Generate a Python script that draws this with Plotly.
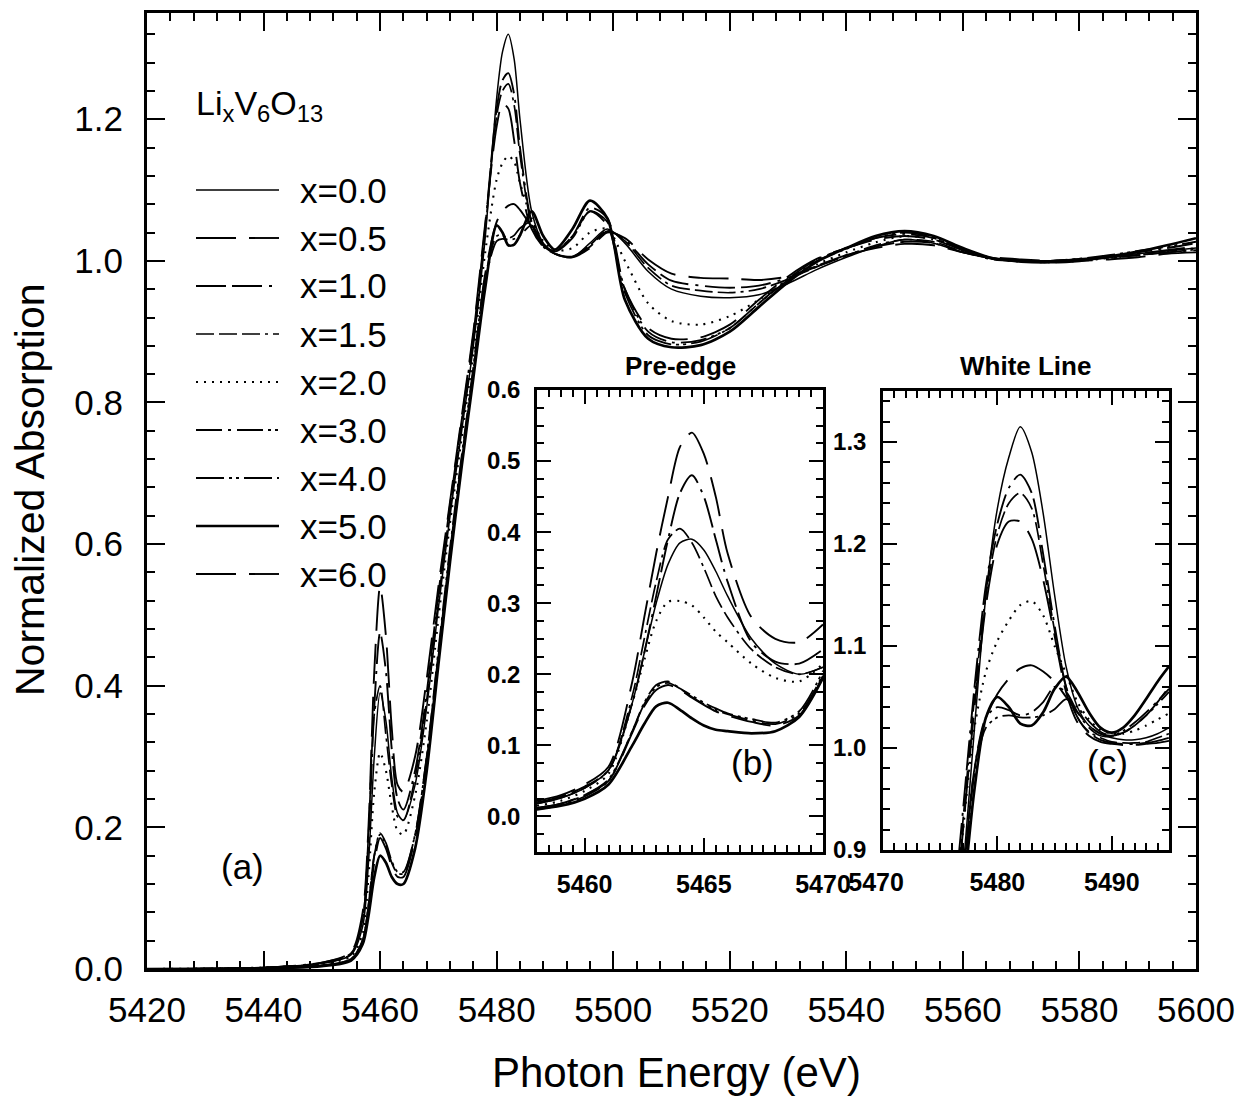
import plotly.graph_objects as go

# ---------------- DATA ----------------
LABELS = ["x=0.0", "x=0.5", "x=1.0", "x=1.5", "x=2.0", "x=3.0", "x=4.0", "x=5.0", "x=6.0"]

E_MAIN = [5420, 5440, 5450, 5455, 5457, 5458, 5459, 5460, 5461, 5462, 5463, 5464,
          5466, 5468, 5470, 5472, 5474, 5476, 5478, 5480, 5481, 5482, 5483, 5484,
          5486, 5488, 5490, 5493, 5496, 5499, 5502, 5506, 5510,
          5515, 5520, 5525, 5530, 5535, 5540, 5545, 5550, 5555, 5560, 5565, 5570,
          5575, 5580, 5585, 5590, 5595, 5600]

MAIN_X00 = [0.000, 0.002, 0.008, 0.020,
            0.060, 0.150, 0.300, 0.390, 0.350, 0.270, 0.220, 0.210,
            0.260, 0.370, 0.510, 0.640, 0.760, 0.880, 1.030, 1.230,
            1.295, 1.320, 1.285, 1.200,
            1.070, 1.025, 1.010,
            1.005, 1.025, 1.045, 1.025, 0.985, 0.960,
            0.950, 0.948, 0.952, 0.968, 0.988, 1.005, 1.020, 1.030, 1.025, 1.012, 1.003, 1.000,
            1.000, 1.003, 1.006, 1.010, 1.014, 1.018]
MAIN_X05 = [0.000, 0.002, 0.009, 0.024,
            0.080, 0.200, 0.420, 0.540, 0.470, 0.340, 0.260, 0.250,
            0.300, 0.410, 0.540, 0.660, 0.780, 0.900, 1.050, 1.190,
            1.222, 1.215, 1.170, 1.110,
            1.045, 1.020, 1.010,
            1.005, 1.018, 1.040, 1.032, 1.002, 0.982,
            0.976, 0.975, 0.973, 0.978, 0.992, 1.008, 1.018, 1.024, 1.022, 1.012, 1.005, 1.002,
            1.000, 1.000, 1.002, 1.005, 1.010, 1.012]
MAIN_X10 = [0.000, 0.002, 0.009, 0.022,
            0.070, 0.180, 0.370, 0.475, 0.420, 0.310, 0.240, 0.225,
            0.280, 0.390, 0.530, 0.655, 0.775, 0.895, 1.045, 1.215,
            1.255, 1.265, 1.235, 1.160,
            1.055, 1.022, 1.010,
            1.006, 1.020, 1.042, 1.030, 0.995, 0.972,
            0.965, 0.962, 0.965, 0.976, 0.993, 1.008, 1.020, 1.027, 1.025, 1.012, 1.004, 1.000,
            1.000, 1.002, 1.005, 1.008, 1.012, 1.015]
MAIN_X15 = [0.000, 0.002, 0.008, 0.021,
            0.070, 0.190, 0.360, 0.400, 0.330, 0.260, 0.215, 0.210,
            0.270, 0.380, 0.520, 0.650, 0.770, 0.890, 1.040, 1.205,
            1.240, 1.250, 1.220, 1.150,
            1.052, 1.020, 1.010,
            1.006, 1.022, 1.043, 1.028, 0.990, 0.965,
            0.958, 0.955, 0.960, 0.974, 0.992, 1.007, 1.022, 1.030, 1.027, 1.013, 1.004, 1.000,
            0.999, 1.001, 1.004, 1.008, 1.012, 1.016]
MAIN_X20 = [0.000, 0.002, 0.007, 0.018,
            0.050, 0.130, 0.250, 0.305, 0.280, 0.230, 0.195, 0.190,
            0.245, 0.350, 0.495, 0.630, 0.750, 0.870, 1.010, 1.115,
            1.138, 1.148, 1.140, 1.110,
            1.060, 1.028, 1.015,
            1.018, 1.040, 1.045, 1.000, 0.940, 0.915,
            0.910, 0.922, 0.945, 0.972, 0.995, 1.012, 1.026, 1.035, 1.030, 1.015, 1.003, 0.999,
            0.998, 1.000, 1.004, 1.008, 1.013, 1.018]
MAIN_X30 = [0.000, 0.001, 0.005, 0.014,
            0.040, 0.090, 0.160, 0.190, 0.175, 0.150, 0.135, 0.135,
            0.190, 0.300, 0.450, 0.595, 0.725, 0.850, 0.975, 1.035,
            1.036, 1.032, 1.036, 1.046,
            1.055, 1.022, 1.014,
            1.035, 1.075, 1.060, 0.960, 0.900, 0.885,
            0.888, 0.905, 0.940, 0.975, 1.002, 1.018, 1.032, 1.038, 1.032, 1.015, 1.002, 1.000,
            1.000, 1.002, 1.006, 1.012, 1.018, 1.025]
MAIN_X40 = [0.000, 0.001, 0.005, 0.014,
            0.040, 0.090, 0.160, 0.192, 0.178, 0.152, 0.137, 0.137,
            0.190, 0.300, 0.445, 0.590, 0.720, 0.845, 0.970, 1.028,
            1.031, 1.030, 1.031, 1.036,
            1.050, 1.024, 1.013,
            1.032, 1.070, 1.055, 0.955, 0.895, 0.882,
            0.886, 0.905, 0.940, 0.973, 1.000, 1.017, 1.032, 1.040, 1.033, 1.016, 1.003, 1.000,
            1.000, 1.003, 1.008, 1.014, 1.020, 1.027]
MAIN_X50 = [0.000, 0.001, 0.004, 0.012,
            0.035, 0.075, 0.130, 0.160, 0.150, 0.130, 0.120, 0.120,
            0.170, 0.280, 0.430, 0.575, 0.710, 0.835, 0.960, 1.050,
            1.040, 1.022, 1.023, 1.036,
            1.070, 1.035, 1.016,
            1.045, 1.085, 1.060, 0.945, 0.890, 0.878,
            0.881, 0.900, 0.935, 0.970, 0.999, 1.018, 1.035, 1.042, 1.035, 1.018, 1.004, 0.999,
            0.998, 1.000, 1.006, 1.013, 1.022, 1.032]
MAIN_X60 = [0.000, 0.001, 0.005, 0.013,
            0.040, 0.085, 0.150, 0.185, 0.170, 0.145, 0.130, 0.130,
            0.185, 0.295, 0.440, 0.585, 0.715, 0.845, 0.980, 1.055,
            1.070, 1.078, 1.080, 1.072,
            1.048, 1.024, 1.013,
            1.035, 1.070, 1.050, 0.960, 0.905, 0.890,
            0.892, 0.910, 0.945, 0.978, 1.003, 1.018, 1.030, 1.035, 1.030, 1.015, 1.003, 1.000,
            1.000, 1.002, 1.005, 1.010, 1.015, 1.020]

# inset (b): pre-edge
E_PRE = [5458, 5459, 5460, 5461, 5462, 5462.5, 5463, 5463.5, 5464, 5464.5, 5465, 5465.5,
         5466, 5467, 5468, 5469, 5470]
PRE_X00 = [0.018, 0.026, 0.040, 0.065, 0.160, 0.230, 0.300, 0.355, 0.385, 0.390, 0.375, 0.345,
           0.310, 0.250, 0.215, 0.200, 0.210]
PRE_X05 = [0.022, 0.030, 0.045, 0.070, 0.190, 0.280, 0.370, 0.450, 0.520, 0.540, 0.510, 0.450,
           0.370, 0.280, 0.250, 0.245, 0.270]
PRE_X10 = [0.020, 0.028, 0.042, 0.065, 0.160, 0.230, 0.310, 0.390, 0.455, 0.480, 0.450, 0.390,
           0.330, 0.245, 0.218, 0.215, 0.235]
PRE_X15 = [0.018, 0.026, 0.040, 0.065, 0.170, 0.250, 0.330, 0.390, 0.405, 0.385, 0.350, 0.310,
           0.280, 0.235, 0.210, 0.200, 0.210]
PRE_X20 = [0.015, 0.022, 0.036, 0.060, 0.160, 0.220, 0.275, 0.302, 0.303, 0.297, 0.280, 0.260,
           0.245, 0.215, 0.195, 0.190, 0.215]
PRE_X30 = [0.010, 0.016, 0.028, 0.050, 0.120, 0.160, 0.185, 0.190, 0.180, 0.168, 0.158, 0.150,
           0.144, 0.135, 0.130, 0.145, 0.200]
PRE_X40 = [0.012, 0.018, 0.030, 0.052, 0.120, 0.158, 0.182, 0.188, 0.180, 0.170, 0.160, 0.152,
           0.145, 0.137, 0.132, 0.148, 0.205]
PRE_X50 = [0.010, 0.015, 0.025, 0.045, 0.100, 0.130, 0.155, 0.160, 0.150, 0.138, 0.128, 0.122,
           0.120, 0.117, 0.120, 0.140, 0.195]
PRE_X60 = [0.012, 0.018, 0.030, 0.050, 0.118, 0.155, 0.178, 0.185, 0.178, 0.167, 0.157, 0.148,
           0.142, 0.133, 0.128, 0.142, 0.198]

# inset (c): white line
E_WL = [5475, 5476, 5477, 5478, 5479, 5480, 5481, 5482, 5483, 5484, 5485, 5486, 5487, 5488,
        5489, 5490, 5491, 5492, 5493, 5494, 5495]
WL_X00 = [0.650, 0.760, 0.880, 1.020, 1.150, 1.235, 1.285, 1.315, 1.290, 1.230, 1.150, 1.080,
          1.040, 1.022, 1.014, 1.010, 1.008, 1.008, 1.010, 1.014, 1.020]
WL_X05 = [0.680, 0.800, 0.920, 1.040, 1.140, 1.200, 1.222, 1.222, 1.205, 1.165, 1.110, 1.055,
          1.025, 1.012, 1.006, 1.004, 1.003, 1.003, 1.004, 1.005, 1.007]
WL_X10 = [0.700, 0.820, 0.940, 1.060, 1.160, 1.220, 1.255, 1.268, 1.250, 1.190, 1.120, 1.060,
          1.030, 1.015, 1.008, 1.005, 1.004, 1.004, 1.005, 1.007, 1.010]
WL_X15 = [0.690, 0.810, 0.930, 1.050, 1.150, 1.210, 1.240, 1.250, 1.235, 1.180, 1.115, 1.060,
          1.030, 1.016, 1.010, 1.006, 1.005, 1.005, 1.006, 1.010, 1.014]
WL_X20 = [0.680, 0.800, 0.920, 1.020, 1.075, 1.105, 1.125, 1.140, 1.144, 1.130, 1.100, 1.073,
          1.045, 1.028, 1.018, 1.014, 1.014, 1.017, 1.022, 1.028, 1.034]
WL_X30 = [0.620, 0.740, 0.870, 0.980, 1.030, 1.040, 1.037, 1.032, 1.035, 1.045, 1.060, 1.055,
          1.035, 1.020, 1.012, 1.012, 1.017, 1.025, 1.035, 1.046, 1.058]
WL_X40 = [0.620, 0.740, 0.860, 0.975, 1.020, 1.030, 1.032, 1.030, 1.030, 1.032, 1.038, 1.048,
          1.040, 1.026, 1.016, 1.012, 1.015, 1.022, 1.032, 1.043, 1.055]
WL_X50 = [0.600, 0.720, 0.850, 0.960, 1.030, 1.050, 1.040, 1.024, 1.022, 1.035, 1.058, 1.070,
          1.055, 1.035, 1.020, 1.015, 1.020, 1.032, 1.048, 1.065, 1.080]
WL_X60 = [0.620, 0.740, 0.870, 0.980, 1.030, 1.053, 1.068, 1.078, 1.081, 1.075, 1.065, 1.050,
          1.035, 1.022, 1.014, 1.012, 1.015, 1.022, 1.032, 1.045, 1.060]

MAIN = [MAIN_X00, MAIN_X05, MAIN_X10, MAIN_X15, MAIN_X20, MAIN_X30, MAIN_X40, MAIN_X50, MAIN_X60]
PRE = [PRE_X00, PRE_X05, PRE_X10, PRE_X15, PRE_X20, PRE_X30, PRE_X40, PRE_X50, PRE_X60]
WL = [WL_X00, WL_X05, WL_X10, WL_X15, WL_X20, WL_X30, WL_X40, WL_X50, WL_X60]

MAIN_XTICKS = [5420, 5440, 5460, 5480, 5500, 5520, 5540, 5560, 5580, 5600]
MAIN_YTICKS = [0.0, 0.2, 0.4, 0.6, 0.8, 1.0, 1.2]
PRE_XTICKS = [5460, 5465, 5470]
PRE_YTICKS = [0.0, 0.1, 0.2, 0.3, 0.4, 0.5, 0.6]
WL_XTICKS = [5470, 5480, 5490]
WL_XTEXT = ["5470\u00a0\u00a0", "5480", "5490"]
WL_YTICKS = [0.9, 1.0, 1.1, 1.2, 1.3]

# ---------------- STYLE ----------------
DASHES = ["solid", "40px,13px", "30px,6px,30px,7px,3px,7px",
          "18px,5px,18px,5px,18px,5px,3px,5px", "2px,6px",
          "26px,6px,3px,6px,26px,5px,3px,4px,3px,5px", "28px,5px,3px,4px,3px,5px",
          "solid", "40px,13px"]
WIDTHS = [1.5, 1.9, 1.9, 1.7, 2.1, 1.8, 1.8, 2.7, 1.9]

W, H = 1243, 1104
OFF = 8                          # page offset of the figure in the screenshot
L, R, T, B = 147, 1196, 13, 969  # main plot area in screen pixels


def px(x):
    return (x - L) / (R - L)


def py(y):
    return (B - y) / (B - T)


FONT = "Liberation Sans"

fig = go.Figure()
for i in range(len(LABELS)):
    line = dict(color="black", width=WIDTHS[i], dash=DASHES[i], shape="spline", smoothing=0.8)
    fig.add_trace(go.Scatter(x=E_MAIN, y=MAIN[i], mode="lines", line=line,
                             xaxis="x", yaxis="y", showlegend=False, name=LABELS[i]))
    fig.add_trace(go.Scatter(x=E_PRE, y=PRE[i], mode="lines", line=line,
                             xaxis="x2", yaxis="y2", showlegend=False, name=LABELS[i]))
    fig.add_trace(go.Scatter(x=E_WL, y=WL[i], mode="lines", line=line,
                             xaxis="x3", yaxis="y3", showlegend=False, name=LABELS[i]))


def axis(domain, anchor, rng, tickvals, fmt, mdtick, mtick0, tlen, mlen, lw, font, standoff,
         ticktext=None):
    d = dict(domain=domain, anchor=anchor, range=rng, tickvals=tickvals, tickformat=fmt,
             ticks="inside", ticklen=tlen, tickwidth=2, tickcolor="black",
             showline=True, linecolor="black", linewidth=lw, mirror="ticks", automargin=False,
             showgrid=False, zeroline=False, tickfont=font, ticklabelstandoff=standoff,
             minor=dict(dtick=mdtick, tick0=mtick0, ticks="inside", ticklen=mlen,
                        tickwidth=1.5, tickcolor="black", showgrid=False))
    if ticktext is not None:
        d["ticktext"] = ticktext
    return d


main_font = dict(family=FONT, size=35, color="black")
ins_font = dict(family=FONT, size=24, color="black", weight="bold")
ins_xfont = dict(family=FONT, size=25, color="black", weight="bold")

bx = [px(537), px(823)]
by = [py(852), py(390)]
cx = [px(883), px(1169)]
cy = [py(850), py(391)]

fig.update_layout(
    width=W, height=H, autosize=False,
    margin=dict(l=L - OFF, r=W - R + OFF, t=T - OFF, b=H - B + OFF, pad=0, autoexpand=False),
    paper_bgcolor="white", plot_bgcolor="white",
    xaxis=axis([0, 1], "y", [5420, 5600], MAIN_XTICKS, "d", 4, 5420, 18, 8, 3, main_font, 8),
    yaxis=axis([0, 1], "x", [0, 1.35], MAIN_YTICKS, ".1f", 0.04, 0, 18, 8, 3, main_font, 14),
    xaxis2=axis(bx, "y2", [5458, 5470], PRE_XTICKS, "d", 0.5, 5458, 14, 7, 2.5, ins_xfont, 8),
    yaxis2=axis(by, "x2", [-0.05, 0.6], PRE_YTICKS, ".1f", 0.025, 0, 14, 7, 2.5, ins_font, 9),
    xaxis3=axis(cx, "y3", [5470, 5495], WL_XTICKS, "d", 1, 5470, 14, 7, 2.5, ins_xfont, 8,
                WL_XTEXT),
    yaxis3=axis(cy, "x3", [0.9, 1.35], WL_YTICKS, ".1f", 0.02, 0.9, 14, 7, 2.5, ins_font, 9),
)

ann = []
# axis titles
ann.append(dict(text="Photon Energy (eV)", x=px(676), y=py(1072), xref="paper", yref="paper",
                showarrow=False, xanchor="center", yanchor="middle",
                font=dict(family=FONT, size=42, color="black")))
ann.append(dict(text="Normalized Absorption", x=px(30), y=py(490), xref="paper", yref="paper",
                showarrow=False, xanchor="center", yanchor="middle", textangle=-90,
                font=dict(family=FONT, size=41, color="black")))
# panel labels
for txt, xx, yy in [("(a)", 242, 866), ("(b)", 752, 762), ("(c)", 1107, 762)]:
    ann.append(dict(text=txt, x=px(xx), y=py(yy), xref="paper", yref="paper", showarrow=False,
                    xanchor="center", yanchor="middle",
                    font=dict(family=FONT, size=35, color="black")))
# inset titles
for txt, xx in [("Pre-edge", 680), ("White Line", 1025)]:
    ann.append(dict(text="<b>%s</b>" % txt, x=px(xx), y=py(366), xref="paper", yref="paper",
                    showarrow=False, xanchor="center", yanchor="middle",
                    font=dict(family=FONT, size=26, color="black")))
# legend
ann.append(dict(text="Li<sub>x</sub>V<sub>6</sub>O<sub>13</sub>", x=px(194), y=py(106),
                xref="paper", yref="paper", showarrow=False, xanchor="left", yanchor="middle",
                font=dict(family=FONT, size=34, color="black")))
shapes = []
ROW0, ROWSTEP = 190, 48
for i, lab in enumerate(LABELS):
    yy = ROW0 + ROWSTEP * i
    shapes.append(dict(type="line", xref="paper", yref="paper", x0=px(196), x1=px(279),
                       y0=py(yy), y1=py(yy),
                       line=dict(color="black", width=WIDTHS[i], dash=DASHES[i])))
    ann.append(dict(text=lab, x=px(298), y=py(yy), xref="paper", yref="paper", showarrow=False,
                    xanchor="left", yanchor="middle",
                    font=dict(family=FONT, size=35, color="black")))

fig.update_layout(annotations=ann, shapes=shapes)
fig.write_html("out.html")
